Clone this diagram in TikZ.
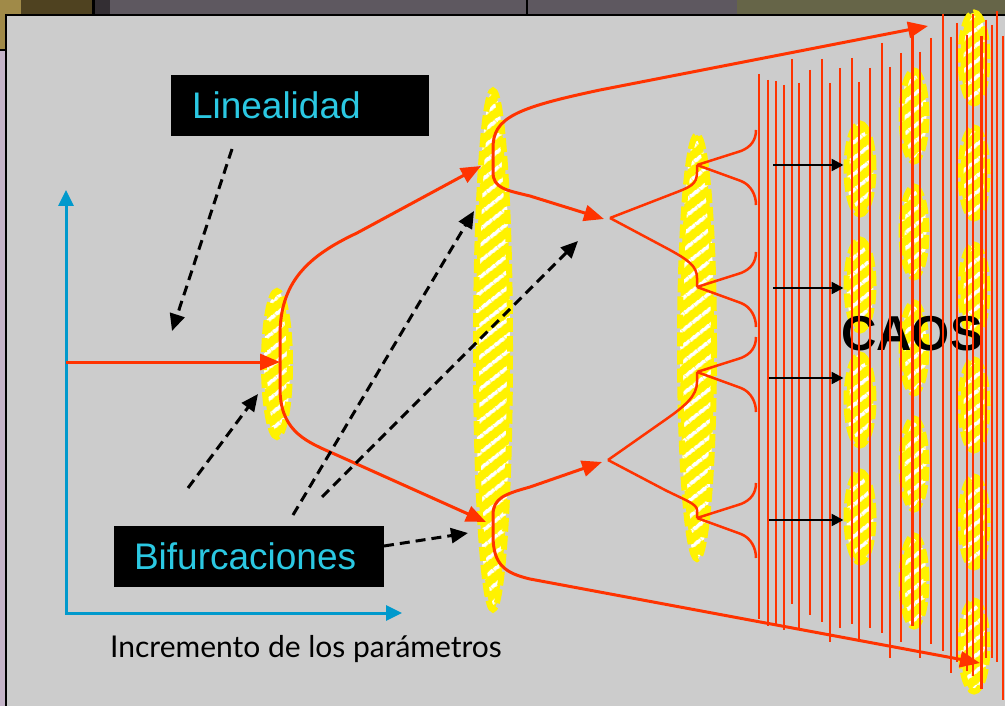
\documentclass[tikz,border=0pt]{standalone}
\usepackage{fontspec}
\setmainfont{Lato}
\newfontfamily\arialfont{Liberation Sans}
\usetikzlibrary{arrows.meta,shapes.geometric,patterns.meta}

\definecolor{bggray}{HTML}{CCCCCC}
\definecolor{chaosred}{HTML}{FF3300}
\definecolor{axisblue}{HTML}{0099CC}
\definecolor{labelcyan}{HTML}{2BC8E2}
\definecolor{bartan}{HTML}{A08A48}
\definecolor{barolive}{HTML}{4F4220}
\definecolor{bardark}{HTML}{332E33}
\definecolor{barpurple}{HTML}{5E5860}
\definecolor{bargreen}{HTML}{666548}
\definecolor{edgepink}{HTML}{C4B4C8}

\tikzset{
  blob/.style={ellipse, inner sep=0pt, draw=yellow, line width=6pt,
    dash pattern=on 14pt off 4pt, preaction={fill=yellow},
    pattern={Lines[angle=38,distance=13pt,line width=4pt]}, pattern color=white},
  redarr/.style={draw=chaosred, line width=3pt, -{Triangle[length=20pt,width=16pt]}},
  redln/.style={draw=chaosred, line width=2.5pt},
  vline/.style={draw=chaosred, line width=2.2pt},
  dasharr/.style={draw=black, line width=3pt, dash pattern=on 10pt off 6pt,
    -{Triangle[length=17pt,width=15pt]}},
  blkarr/.style={draw=black, line width=2.5pt, -{Triangle[length=12pt,width=12pt]}},
  axisarr/.style={draw=axisblue, line width=3pt,
    {Triangle[length=16pt,width=15pt]}-{Triangle[length=16pt,width=15pt]}},
  cbox/.style={fill=black, text=labelcyan, font=\arialfont\fontsize{37}{40}\selectfont,
    minimum height=61pt, inner ysep=0pt, align=left}
}

\begin{document}
\begin{tikzpicture}[x=1pt,y=-1pt]
    \useasboundingbox (0,0) rectangle (1005,706);

    % window frame
    \fill[bartan] (0,0) rectangle (21,50);
    \fill[barolive] (21,0) rectangle (92,14);
    \fill[black] (92,0) rectangle (95,14);
    \fill[bardark] (95,0) rectangle (110,14);
    \fill[barpurple] (110,0) rectangle (737,14);
    \fill[black] (526,0) rectangle (528,14);
    \fill[bargreen] (737,0) rectangle (1005,14);
    \fill[edgepink] (0,50) rectangle (5,706);
    \fill[black] (0,49) rectangle (5,51);
    \fill[black] (5,14) rectangle (1005,706);
    \fill[bggray] (7,16) rectangle (1005,706);

    % axes
    \coordinate (org) at (66,613);
    \coordinate (yend) at (66,190);
    \coordinate (xend) at (402,613);
    \draw[axisarr] (yend) -- (org) -- (xend);
    \node[anchor=base west, inner sep=0pt, font=\fontsize{30}{32}\selectfont] (inc) at (110,657)
        {Incremento de los parámetros};

    % labels
    \node[cbox, text width=216pt, inner xsep=21pt] (lin) at (300,105.5) {Linealidad};
    \node[cbox, text width=230pt, inner xsep=20pt] (bif) at (249,556.5) {Bifurcaciones};

    % attractors
    \node[blob, minimum width=26pt, minimum height=146pt] (e1) at (277,364) {};
    \node[blob, minimum width=34pt, minimum height=519pt] (e2) at (493,350) {};
    \node[blob, minimum width=34pt, minimum height=424pt] (e3) at (697,347) {};

    % linear branch and first bifurcation
    \coordinate (lin0) at (66,362);
    \coordinate (p1) at (280,362);
    \coordinate (q1) at (481,166);
    \coordinate (q2) at (486,522);
    \draw[redarr] (lin0) -- (p1);
    \draw[redarr] (p1) -- (280,335) .. controls (280,282) and (308,256) .. (357,233) -- (q1);
    \draw[redarr] (p1) -- (280,388) .. controls (280,428) and (302,440) .. (330,452) -- (q2);

    % second bifurcation
    \coordinate (s1) at (493,166);
    \coordinate (s2) at (493,523);
    \coordinate (t1) at (928,26);
    \coordinate (t2) at (980,663);
    \coordinate (u1) at (604,219);
    \coordinate (u2) at (602,462);
    \draw[redarr] (s1) -- (493,172) .. controls (493,188) and (505,190) .. (530,196) -- (u1);
    \draw[redarr] (s2) -- (493,515) .. controls (493,498) and (505,494) .. (530,487) -- (u2);

    % third bifurcation
    \coordinate (v1) at (610,218);
    \coordinate (v2) at (608,460);
    \coordinate (c1) at (697,165);
    \coordinate (c2) at (697,287);
    \coordinate (c3) at (697,372);
    \coordinate (c4) at (697,518);
    \draw[redln] (v1) -- (672,194) .. controls (690,187) and (697,185) .. (697,172) -- (c1);
    \draw[redln] (v1) -- (670,250) .. controls (688,260) and (697,266) .. (697,278) -- (c2);
    \draw[redln] (v2) -- (665,420) .. controls (685,406) and (697,396) .. (697,382) -- (c3);
    \draw[redln] (v2) -- (665,490) .. controls (685,500) and (697,504) .. (697,510) -- (c4);
    \foreach \c in {c1,c2,c3,c4} {
        \draw[redln] (\c) -- ++(44,-14) .. controls +(10,-4) and +(0,10) .. ++(15,-21);
        \draw[redln] (\c) -- ++(44,16) .. controls +(10,4) and +(0,-10) .. ++(15,24);
    }

    % pointers from the labels
    \coordinate (linfoot) at (232,149);
    \coordinate (lintip) at (172,331);
    \coordinate (biffoot) at (384,546);
    \coordinate (biftip) at (468,533);
    \coordinate (f1) at (188,488);
    \coordinate (g1) at (258,394);
    \coordinate (f2) at (293,515);
    \coordinate (g2) at (474,211);
    \coordinate (f3) at (322,497);
    \coordinate (g3) at (578,241);
    \draw[dasharr] (linfoot) -- (lintip);
    \draw[dasharr] (biffoot) -- (biftip);
    \draw[dasharr] (f1) -- (g1);
    \draw[dasharr] (f2) -- (g2);
    \draw[dasharr] (f3) -- (g3);

    % chaos
    \foreach \y [count=\i] in {169,285,400,517}
        \node[blob, minimum width=27pt, minimum height=91pt] (ca\i) at (860,\y) {};
    \foreach \y [count=\i] in {116,232,348,464,581}
        \node[blob, minimum width=25pt, minimum height=91pt] (cb\i) at (914,\y) {};
    \foreach \y [count=\i] in {58,173,290,405,522,646}
        \node[blob, minimum width=27pt, minimum height=91pt] (cc\i) at (974,\y) {};
    \node[anchor=base west, inner sep=0pt, font=\arialfont\bfseries\fontsize{49}{50}\selectfont]
        (caos) at (841,350) {CAOS};

    \foreach \x/\a/\b in {759/74/619, 768/80/626, 776/81/626, 784/85/630, 792/59/604,
        799/83/628, 810/70/615, 822/59/622, 830/83/642, 840/68/628, 852/58/624,
        859/82/642, 870/68/628, 882/43/633, 890/67/658, 901/53/642, 920/52/658,
        931/38/644, 943/14/651, 951/37/673, 957/23/662, 967/35/671, 973/14/676,
        986/20/658, 992/25/658, 997/11/662, 1003/36/700}
        \draw[vline] (\x,\a) -- (\x,\b);
    \draw[vline, line width=3pt] (912,25) -- (912,626);
    \draw[vline, line width=3pt] (981,36) -- (981,689);

    \draw[redarr] (s1) -- (493,148) .. controls (493,118) and (515,108) .. (600,90) -- (t1);
    \draw[redarr] (s2) -- (493,535) .. controls (493,565) and (505,573) .. (530,579) -- (t2);

    \coordinate (k1) at (773,165);
    \coordinate (k2) at (773,288);
    \coordinate (k3) at (769,378);
    \coordinate (k4) at (769,520);
    \draw[blkarr] (k1) -- (k1 -| ca1.west);
    \draw[blkarr] (k2) -- (k2 -| ca2.west);
    \draw[blkarr] (k3) -- (k3 -| ca3.west);
    \draw[blkarr] (k4) -- (k4 -| ca4.west);
\end{tikzpicture}
\end{document}
